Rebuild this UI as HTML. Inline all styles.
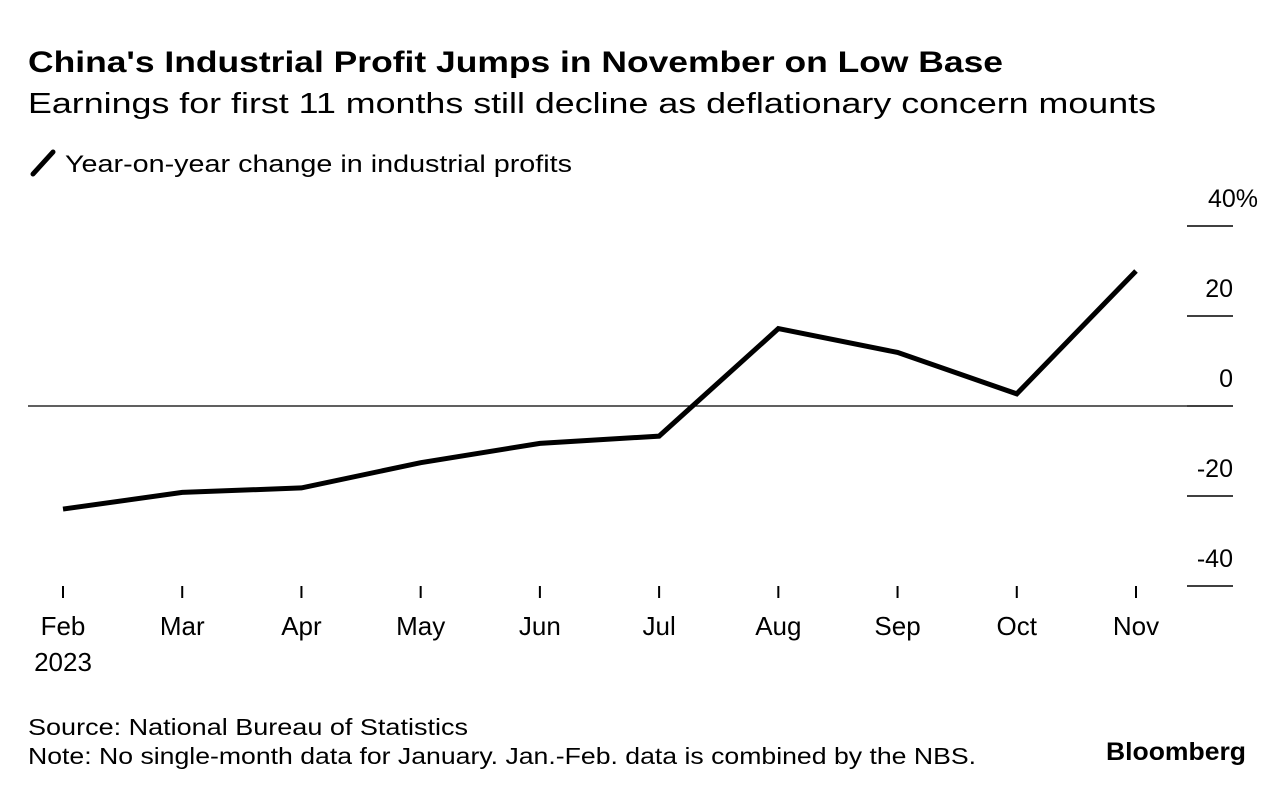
<!DOCTYPE html>
<html><head><meta charset="utf-8">
<style>
html,body{margin:0;padding:0;background:#fff;}
body{width:1286px;height:796px;overflow:hidden;font-family:"Liberation Sans",sans-serif;color:#000;}
</style></head>
<body>
<svg width="1286" height="796" xmlns="http://www.w3.org/2000/svg" font-family="Liberation Sans, sans-serif">
<text x="28" y="72" font-size="30" font-weight="bold" textLength="975" lengthAdjust="spacingAndGlyphs">China's Industrial Profit Jumps in November on Low Base</text>
<text x="28" y="113" font-size="29" textLength="1128" lengthAdjust="spacingAndGlyphs">Earnings for first 11 months still decline as deflationary concern mounts</text>
<line x1="33" y1="174" x2="53" y2="152" stroke="#000" stroke-width="5" stroke-linecap="round"/>
<text x="65" y="172" font-size="24" textLength="507" lengthAdjust="spacingAndGlyphs">Year-on-year change in industrial profits</text>
<g id="axes"></g>
<g id="plot"></g>
<text x="28" y="735" font-size="23" textLength="440" lengthAdjust="spacingAndGlyphs">Source: National Bureau of Statistics</text>
<text x="28" y="764" font-size="23" textLength="948" lengthAdjust="spacingAndGlyphs">Note: No single-month data for January. Jan.-Feb. data is combined by the NBS.</text>
<text x="1246" y="760" font-size="25" font-weight="bold" text-anchor="end" textLength="140" lengthAdjust="spacingAndGlyphs">Bloomberg</text>
</svg>
<script>
const months = ["Feb","Mar","Apr","May","Jun","Jul","Aug","Sep","Oct","Nov"];
const profitChange = [-22.9,-19.2,-18.2,-12.6,-8.3,-6.7,17.2,11.9,2.7,30.0];
const yTicks = [40,20,0,-20,-40];
const yTickLabels = ["40%","20","0","-20","-40"];
const NS="http://www.w3.org/2000/svg";
const xS=i=>63+i*(1136-63)/(months.length-1);
const yS=v=>406-v*4.5;
const axes=document.getElementById('axes'), plot=document.getElementById('plot');
function mk(tag,attrs,parent){const e=document.createElementNS(NS,tag);for(const k in attrs)e.setAttribute(k,attrs[k]);parent.appendChild(e);return e;}
yTicks.forEach((v,i)=>{
  const l=mk('line',{x1:1187,x2:1233,y1:yS(v),y2:yS(v),stroke:'#000','stroke-width':1.5},axes);
  
  
  const t=mk('text',{x:i===0?1258:1233,y:yS(v)-19,'font-size':25,'text-anchor':'end'},axes);
  t.textContent=yTickLabels[i];
  
  
});
const z=mk('line',{x1:28,x2:1187,y1:yS(0),y2:yS(0),stroke:'#000','stroke-width':1.3},axes);


months.forEach((m,i)=>{
  const l=mk('line',{x1:xS(i),x2:xS(i),y1:586,y2:598,stroke:'#000','stroke-width':2},axes);
  
  
  const t=mk('text',{x:xS(i),y:635,'font-size':26,'text-anchor':'middle'},axes);
  t.textContent=m;
  
  
});
const yr=mk('text',{x:xS(0),y:671,'font-size':26,'text-anchor':'middle'},axes);
yr.textContent="2023";


const p=mk('polyline',{points:profitChange.map((v,i)=>xS(i)+','+yS(v)).join(' '),fill:'none',stroke:'#000','stroke-width':5,'stroke-linejoin':'miter'},plot);


</script>
</body></html>
